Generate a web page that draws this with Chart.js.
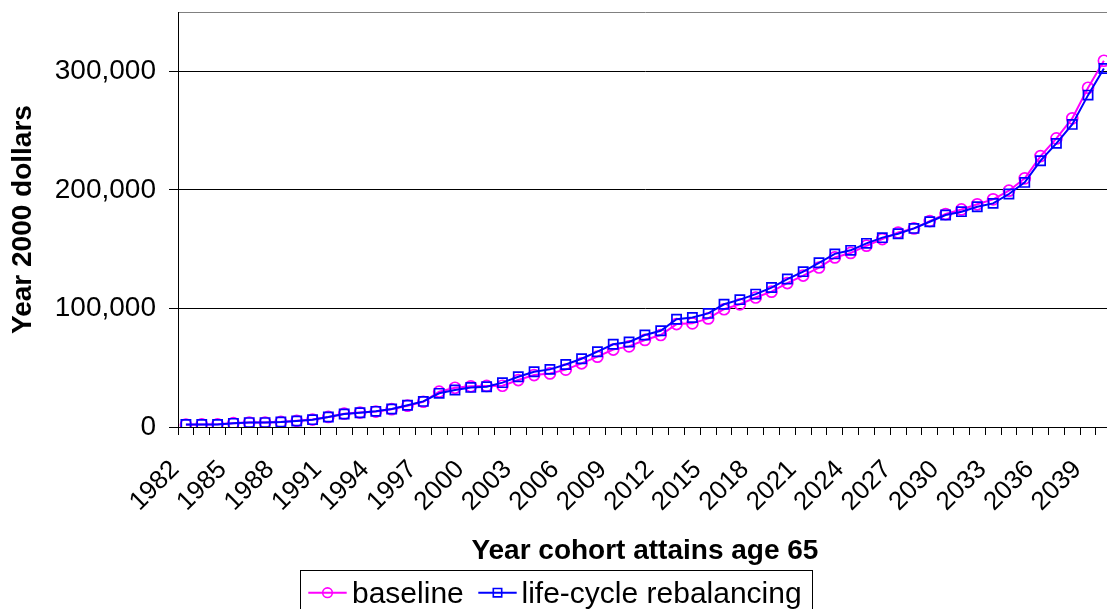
<!DOCTYPE html>
<html>
<head>
<meta charset="utf-8">
<script src="https://cdn.jsdelivr.net/npm/chart.js@4/dist/chart.umd.min.js"></script>
<style>
  html, body { margin: 0; padding: 0; overflow: hidden; background: #fff; }
  #wrap { width: 1120px; height: 609px; }
</style>
</head>
<body>
<div id="wrap"><canvas id="c" width="1120" height="609"></canvas></div>
<script>
const categories = ['1982','1983','1984','1985','1986','1987','1988','1989','1990','1991',
  '1992','1993','1994','1995','1996','1997','1998','1999','2000','2001',
  '2002','2003','2004','2005','2006','2007','2008','2009','2010','2011',
  '2012','2013','2014','2015','2016','2017','2018','2019','2020','2021',
  '2022','2023','2024','2025','2026','2027','2028','2029','2030','2031',
  '2032','2033','2034','2035','2036','2037','2038','2039','2040'];

const baseline = [2000, 2200, 2300, 3200, 3800, 3800, 4300, 5200, 6300, 8500,
  11200, 12200, 13000, 15000, 18000, 21300, 29800, 33100, 34300, 34600,
  34800, 39600, 43800, 45200, 48400, 53700, 59300, 65300, 68000, 73400,
  77600, 86800, 87400, 91600, 99300, 103500, 109200, 114100, 121400, 127700,
  134500, 143000, 146800, 152900, 158500, 164000, 167500, 173700, 179600, 183500,
  187800, 192000, 199300, 209700, 228500, 243400, 260300, 286100, 308900];

const lifeCycle = [2200, 2200, 2200, 3100, 3700, 3700, 4200, 5100, 6200, 8400,
  11000, 12000, 13200, 15200, 18300, 21600, 28400, 31200, 33400, 34000,
  37400, 42400, 46600, 48600, 52700, 57600, 63500, 69800, 71700, 77600,
  81200, 90900, 92300, 95800, 103500, 107400, 112100, 117600, 124800, 131000,
  138500, 146000, 149000, 154900, 159700, 163000, 167500, 173100, 178800, 181600,
  185800, 188600, 196500, 206300, 224600, 239200, 255200, 279900, 302400];

const yTickValues = [0, 100000, 200000, 300000];
const yMax = 350000;

const seriesNames = ['baseline', 'life-cycle rebalancing'];
const FONT = "'Liberation Sans', Arial, Helvetica, sans-serif";

const legendPlugin = {
  id: 'customLegend',
  afterDraw(chart) {
    const ctx = chart.ctx;
    const ds = chart.data.datasets;
    ctx.save();
    ctx.strokeStyle = '#000';
    ctx.lineWidth = 1;
    ctx.strokeRect(300.5, 570.5, 512, 60);
    ctx.font = '30px ' + FONT;
    ctx.textBaseline = 'alphabetic';
    ctx.textAlign = 'left';
    const items = [
      { ds: ds[0], x0: 308.3, textX: 352 },
      { ds: ds[1], x0: 478.3, textX: 521.5 }
    ];
    const yMid = 592.7;
    items.forEach(it => {
      ctx.strokeStyle = it.ds.borderColor;
      ctx.lineWidth = 2;
      ctx.beginPath();
      ctx.moveTo(it.x0, yMid);
      ctx.lineTo(it.x0 + 38.4, yMid);
      ctx.stroke();
      const cx = it.x0 + 19.2;
      ctx.lineWidth = 1.6;
      ctx.beginPath();
      if (it.ds.pointStyle === 'rect') {
        ctx.rect(cx - 4.2, yMid - 4.2, 8.4, 8.4);
      } else {
        ctx.arc(cx, yMid, 4.8, 0, Math.PI * 2);
      }
      ctx.stroke();
      ctx.fillStyle = '#000';
      ctx.fillText(it.ds.label, it.textX, 602.7);
    });
    ctx.restore();
  }
};

new Chart(document.getElementById('c'), {
  type: 'line',
  data: {
    labels: categories,
    datasets: [
      {
        label: seriesNames[0],
        data: baseline,
        borderColor: '#FF00FF',
        backgroundColor: 'rgba(0,0,0,0)',
        borderWidth: 2,
        pointStyle: 'circle',
        pointRadius: 5.5,
        pointBorderWidth: 1.7,
        pointBorderColor: '#FF00FF',
        pointBackgroundColor: 'rgba(0,0,0,0)',
        tension: 0,
        order: 1
      },
      {
        label: seriesNames[1],
        data: lifeCycle,
        borderColor: '#0000FF',
        backgroundColor: 'rgba(0,0,0,0)',
        borderWidth: 2,
        pointStyle: 'rect',
        pointRadius: 6.5,
        pointBorderWidth: 1.7,
        pointBorderColor: '#0000FF',
        pointBackgroundColor: 'rgba(0,0,0,0)',
        tension: 0,
        order: 0
      }
    ]
  },
  options: {
    responsive: false,
    animation: false,
    events: [],
    layout: { padding: { left: 0, right: 6, top: 12, bottom: 0 } },
    plugins: {
      legend: { display: false },
      tooltip: { enabled: false }
    },
    scales: {
      x: {
        type: 'category',
        offset: true,
        grid: {
          display: true,
          drawOnChartArea: false,
          drawTicks: true,
          tickLength: 8,
          tickColor: '#000',
          tickWidth: 1,
          offset: true
        },
        border: { display: true, color: '#000', width: 1 },
        ticks: {
          autoSkip: false,
          minRotation: 45,
          maxRotation: 45,
          padding: 19.5,
          labelOffset: -10.7,
          color: '#000',
          font: { family: FONT, size: 26 },
          callback: function (value, index) {
            return index % 3 === 0 ? this.getLabelForValue(value) : '';
          }
        },
        title: {
          display: true,
          text: 'Year cohort attains age 65',
          color: '#000',
          font: { family: FONT, size: 28, weight: 'bold' },
          padding: { top: 0, bottom: 40.9 }
        },
        afterFit(scale) {
          scale.height = 182;
          scale.paddingLeft = 0; scale.paddingRight = 0;
          scale.paddingTop = 0; scale.paddingBottom = 0;
        }
      },
      y: {
        type: 'linear',
        min: 0,
        max: yMax,
        afterBuildTicks(scale) {
          scale.ticks = yTickValues.concat([yMax]).map(v => ({ value: v }));
        },
        grid: {
          display: true,
          drawTicks: true,
          tickLength: 9,
          color: c => (c.tick && c.tick.value === yMax) ? '#808080' : '#000',
          tickColor: c => (c.tick && c.tick.value === yMax) ? 'rgba(0,0,0,0)' : '#000',
          lineWidth: 1
        },
        border: { display: true, color: '#000', width: 1 },
        ticks: {
          padding: 13,
          color: '#000',
          font: { family: FONT, size: 28 },
          callback: v => (v === yMax ? '' : Number(v).toLocaleString('en-US'))
        },
        title: {
          display: true,
          text: 'Year 2000 dollars',
          color: '#000',
          font: { family: FONT, size: 28, weight: 'bold' },
          padding: { top: 6.8, bottom: 0 }
        },
        afterFit(scale) {
          scale.width = 178;
          scale.paddingLeft = 0; scale.paddingRight = 0;
          scale.paddingTop = 0; scale.paddingBottom = 0;
        }
      }
    }
  },
  plugins: [legendPlugin]
});
</script>
</body>
</html>
